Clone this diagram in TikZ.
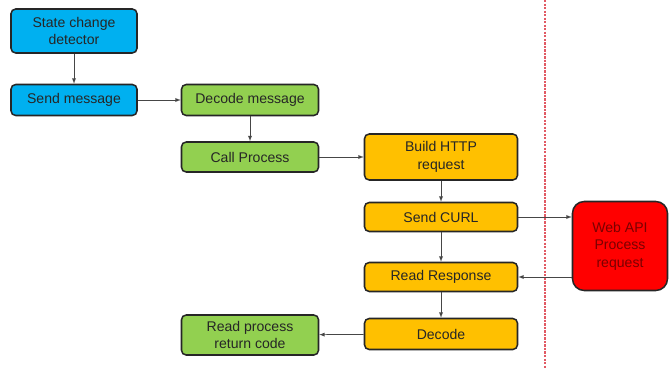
\documentclass[tikz,border=0pt]{standalone}
\usepackage{fontspec}
\setmainfont{Liberation Sans}
\usepackage{tikz}
\usetikzlibrary{arrows,calc}
\definecolor{skyblue}{RGB}{0,176,240}
\definecolor{leafgreen}{RGB}{146,208,80}
\definecolor{amber}{RGB}{255,192,0}
\definecolor{darkred}{RGB}{122,0,0}
\definecolor{linegray}{RGB}{70,70,70}
\definecolor{paleline}{RGB}{225,90,100}

\begin{document}
\begin{tikzpicture}[x=0.03cm,y=-0.03cm,
    box/.style={draw=black!85, line width=1.3pt, rounded corners=4pt, align=center,
        inner sep=0pt, text=black!85, font=\fontsize{12}{15}\selectfont},
    bluebox/.style={box, fill=skyblue, minimum width=3.78cm},
    greenbox/.style={box, fill=leafgreen, minimum width=4.11cm},
    amberbox/.style={box, fill=amber, minimum width=4.59cm},
    apibox/.style={box, fill=red, rounded corners=10pt, text=darkred,
        minimum width=2.85cm, minimum height=2.67cm},
    link/.style={-latex, draw=linegray, line width=0.6pt}]
    \useasboundingbox (0,0) rectangle (672,369);

    % separator
    \draw[paleline, dash pattern=on 2pt off 1pt, line width=1pt] (545,0) -- (545,369);

    % left column
    \node[bluebox, minimum height=1.32cm] (detector) at (74,31) {State change\\detector};
    \node[bluebox, minimum height=0.93cm] (sendmsg) at (74,100) {Send message};

    % green column
    \node[greenbox, minimum height=0.93cm] (decodemsg) at (250,100) {Decode message};
    \node[greenbox, minimum height=0.90cm] (callproc) at (250,157) {Call Process};
    \node[greenbox, minimum height=1.20cm] (retcode) at (250,335) {Read process\\return code};

    % curl column
    \node[amberbox, minimum height=1.38cm] (build) at (441,157) {Build HTTP\\request};
    \node[amberbox, minimum height=0.87cm] (curl) at (441,217) {Send CURL};
    \node[amberbox, minimum height=0.87cm] (response) at (441,277) {Read Response};
    \node[amberbox, minimum height=0.93cm] (decode) at (441,334) {Decode};

    % remote side
    \node[apibox] (webapi) at (620,246) {Web API\\Process\\request};

    \draw[link] (detector) -- (sendmsg);
    \draw[link] (sendmsg) -- (decodemsg);
    \draw[link] (decodemsg) -- (callproc);
    \draw[link] (callproc) -- (build);
    \draw[link] (build) -- (curl);
    \draw[link] (curl) -- (curl -| webapi.west);
    \draw[link] (curl) -- (response);
    \draw[link] (response -| webapi.west) -- (response);
    \draw[link] (response) -- (decode);
    \draw[link] (decode) -- (retcode);
\end{tikzpicture}
\end{document}
